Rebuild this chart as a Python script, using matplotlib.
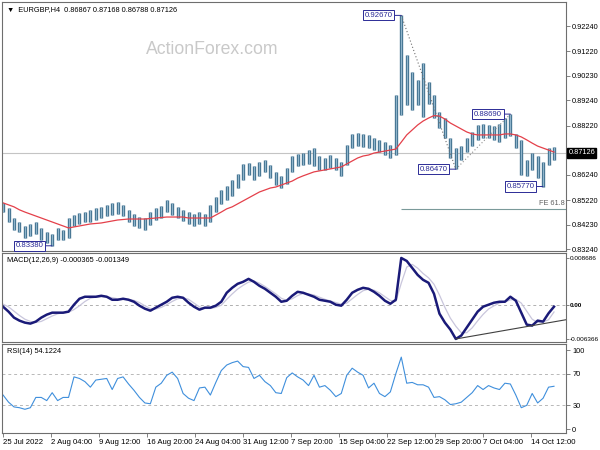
import matplotlib
matplotlib.use("Agg")
import matplotlib.pyplot as plt
import matplotlib.transforms as mtransforms

plt.rcParams["font.family"] = ["Liberation Sans", "DejaVu Sans"]

# ---------------------------------------------------------------------------
# Data (EURGBP H4, one drawn bar per 5 H4 bars)
# ---------------------------------------------------------------------------
bar_idx = list(range(0, 510, 5))

highs = [
    0.8511, 0.8491, 0.8450, 0.8434, 0.8418, 0.8426, 0.8434, 0.8410, 0.8394, 0.8386,
    0.8410, 0.8402, 0.8450, 0.8462, 0.8470, 0.8474, 0.8483, 0.8491, 0.8495, 0.8503,
    0.8511, 0.8515, 0.8503, 0.8483, 0.8466, 0.8454, 0.8450, 0.8474, 0.8491, 0.8499,
    0.8523, 0.8511, 0.8495, 0.8483, 0.8474, 0.8466, 0.8474, 0.8466, 0.8503, 0.8535,
    0.8563, 0.8579, 0.8603, 0.8628, 0.8668, 0.8672, 0.8660, 0.8676, 0.8684, 0.8664,
    0.8636, 0.8620, 0.8652, 0.8700, 0.8708, 0.8712, 0.8724, 0.8732, 0.8700, 0.8692,
    0.8704, 0.8692, 0.8676, 0.8744, 0.8789, 0.8793, 0.8789, 0.8785, 0.8773, 0.8765,
    0.8756, 0.8744, 0.8946, 0.9267, 0.9107, 0.9039, 0.9006, 0.9075, 0.8998, 0.8946,
    0.8877, 0.8853, 0.8773, 0.8732, 0.8740, 0.8773, 0.8797, 0.8825, 0.8829, 0.8825,
    0.8821, 0.8829, 0.8853, 0.8869, 0.8789, 0.8765, 0.8684, 0.8712, 0.8700, 0.8676,
    0.8732, 0.8736,
]
lows = [
    0.8474, 0.8434, 0.8402, 0.8394, 0.8370, 0.8378, 0.8386, 0.8362, 0.8350, 0.8338,
    0.8362, 0.8362, 0.8370, 0.8418, 0.8426, 0.8434, 0.8434, 0.8442, 0.8450, 0.8458,
    0.8462, 0.8466, 0.8458, 0.8434, 0.8418, 0.8410, 0.8402, 0.8422, 0.8442, 0.8450,
    0.8474, 0.8462, 0.8450, 0.8438, 0.8426, 0.8418, 0.8426, 0.8418, 0.8434, 0.8474,
    0.8507, 0.8523, 0.8539, 0.8571, 0.8603, 0.8624, 0.8603, 0.8620, 0.8636, 0.8611,
    0.8583, 0.8571, 0.8587, 0.8636, 0.8660, 0.8664, 0.8668, 0.8660, 0.8644, 0.8644,
    0.8652, 0.8644, 0.8620, 0.8664, 0.8732, 0.8740, 0.8736, 0.8732, 0.8724, 0.8716,
    0.8704, 0.8692, 0.8704, 0.8865, 0.8906, 0.8886, 0.8906, 0.8857, 0.8910, 0.8853,
    0.8813, 0.8773, 0.8692, 0.8647, 0.8684, 0.8716, 0.8740, 0.8765, 0.8773, 0.8773,
    0.8765, 0.8756, 0.8773, 0.8781, 0.8732, 0.8624, 0.8620, 0.8644, 0.8611, 0.8577,
    0.8664, 0.8684,
]
ma_line = [
    0.8511, 0.8503, 0.8495, 0.8483, 0.8474, 0.8466, 0.8458, 0.8450, 0.8442, 0.8434,
    0.8426, 0.8418, 0.8410, 0.8414, 0.8418, 0.8422, 0.8426, 0.8428, 0.8430, 0.8434,
    0.8438, 0.8442, 0.8444, 0.8446, 0.8446, 0.8446, 0.8446, 0.8448, 0.8450, 0.8452,
    0.8454, 0.8454, 0.8454, 0.8454, 0.8450, 0.8450, 0.8450, 0.8450, 0.8450, 0.8462,
    0.8474, 0.8487, 0.8495, 0.8507, 0.8519, 0.8531, 0.8543, 0.8555, 0.8563, 0.8571,
    0.8575, 0.8583, 0.8591, 0.8599, 0.8611, 0.8620, 0.8628, 0.8636, 0.8640, 0.8644,
    0.8648, 0.8652, 0.8656, 0.8668, 0.8680, 0.8692, 0.8700, 0.8704, 0.8712, 0.8716,
    0.8720, 0.8724, 0.8728, 0.8756, 0.8785, 0.8805, 0.8825, 0.8841, 0.8853, 0.8863,
    0.8861, 0.8849, 0.8833, 0.8821, 0.8809, 0.8797, 0.8789, 0.8785, 0.8785, 0.8785,
    0.8785, 0.8785, 0.8789, 0.8789, 0.8785, 0.8777, 0.8765, 0.8752, 0.8740, 0.8732,
    0.8724, 0.8716,
]

macd_main = [
    -0.00037, -0.00129, -0.00240, -0.00296, -0.00333, -0.00351, -0.00314, -0.00240, -0.00185, -0.00148,
    -0.00148, -0.00148, -0.00129, 0.00000, 0.00111, 0.00148, 0.00148, 0.00148, 0.00166, 0.00148,
    0.00092, 0.00092, 0.00111, 0.00092, 0.00055, -0.00018, -0.00074, -0.00111, -0.00055, 0.00000,
    0.00055, 0.00129, 0.00148, 0.00129, 0.00037, -0.00037, -0.00092, -0.00055, -0.00055, -0.00018,
    0.00055, 0.00222, 0.00314, 0.00388, 0.00425, 0.00480, 0.00425, 0.00351, 0.00296, 0.00222,
    0.00148, 0.00055, 0.00074, 0.00166, 0.00240, 0.00222, 0.00185, 0.00148, 0.00092, 0.00074,
    0.00055, 0.00000, -0.00018, 0.00092, 0.00222, 0.00277, 0.00314, 0.00296, 0.00240, 0.00166,
    0.00074, 0.00018, 0.00092, 0.008686, 0.00813, 0.00684, 0.00554, 0.00462, 0.00407, 0.00203,
    -0.00166, -0.00333, -0.00462, -0.006366, -0.00573, -0.00425, -0.00277, -0.00129, -0.00037, 0.00000,
    0.00037, 0.00055, 0.00055, 0.00148, 0.00074, -0.00148, -0.00370, -0.00388, -0.00296, -0.00314,
    -0.00160, -0.000365,
]
macd_signal = [
    0.0001, -0.0004, -0.0012, -0.0020, -0.0027, -0.0031, -0.0033, -0.0031, -0.0026, -0.0021,
    -0.0017, -0.0015, -0.0014, -0.0009, -0.0002, 0.0006, 0.0012, 0.0014, 0.0015, 0.0015,
    0.0013, 0.0011, 0.0010, 0.0010, 0.0008, 0.0004, -0.0002, -0.0007, -0.0008, -0.0005,
    0.0000, 0.0006, 0.0011, 0.0013, 0.0010, 0.0003, -0.0004, -0.0007, -0.0007, -0.0005,
    -0.0001, 0.0010, 0.0020, 0.0029, 0.0036, 0.0042, 0.0044, 0.0040, 0.0034, 0.0027,
    0.0020, 0.0012, 0.0008, 0.0011, 0.0017, 0.0021, 0.0020, 0.0018, 0.0014, 0.0010,
    0.0007, 0.0004, 0.0001, 0.0003, 0.0011, 0.0019, 0.0026, 0.0029, 0.0027, 0.0022,
    0.0015, 0.0008, 0.0006, 0.0040, 0.0070, 0.0075, 0.0068, 0.0058, 0.0050, 0.0038,
    0.0018, -0.0005, -0.0025, -0.0040, -0.0052, -0.0052, -0.0043, -0.0030, -0.0018, -0.0008,
    -0.0002, 0.0003, 0.0005, 0.0009, 0.0010, 0.0003, -0.0012, -0.0027, -0.0033, -0.0032,
    -0.0028, -0.001349,
]

rsi = [
    43, 34, 28, 27, 25, 27, 40, 40, 36, 46,
    36, 40, 40, 66, 64, 60, 53, 62, 63, 64,
    50, 64, 66, 57, 49, 40, 33, 32, 53, 58,
    68, 72, 64, 45, 39, 36, 52, 53, 43, 59,
    74, 81, 84, 86, 79, 78, 64, 68, 60, 55,
    46, 45, 65, 71, 66, 62, 55, 68, 53, 55,
    49, 41, 45, 68, 77, 72, 68, 52, 58, 45,
    41, 47, 70, 91, 58, 59, 56, 56, 53, 40,
    41, 37, 31, 32, 34, 40, 46, 55, 50, 55,
    52, 50, 58, 57, 43, 27, 30, 45, 33, 39,
    53, 54.1224,
]

date_ticks = [0, 44, 88, 132, 176, 220, 264, 308, 352, 396, 440, 484]
date_labels = ["25 Jul 2022", "2 Aug 04:00", "9 Aug 12:00", "16 Aug 20:00",
               "24 Aug 04:00", "31 Aug 12:00", "7 Sep 20:00", "15 Sep 04:00",
               "22 Sep 12:00", "29 Sep 20:00", "7 Oct 04:00", "14 Oct 12:00"]

price_ticks = [0.92240, 0.91220, 0.90230, 0.89240, 0.88220,
               0.86240, 0.85220, 0.84230, 0.83240]
last_price = 0.87126
fe_level = 0.8486

# swing labels: (bar, price, text)
swings = [(365, 0.92670, "0.92670"), (465, 0.88690, "0.88690"),
          (415, 0.86470, "0.86470"), (495, 0.85770, "0.85770"),
          (45, 0.83380, "0.83380")]

# ---------------------------------------------------------------------------
W, H = 600, 450
fig = plt.figure(figsize=(6, 4.5), dpi=100)


def px_axes(x0, y0, x1, y1):
    return fig.add_axes([x0 / W, 1 - y1 / H, (x1 - x0) / W, (y1 - y0) / H])


ax = px_axes(2, 2, 566, 251)
ax_m = px_axes(2, 253, 566, 342)
ax_r = px_axes(2, 344, 566, 433)

FS = 5.3
FRAME_C = "#6e6e6e"
BOX_C = "#2b2b96"

for a in (ax, ax_m, ax_r):
    a.set_xlim(-1, 516)
    a.yaxis.tick_right()
    a.tick_params(axis="y", length=3, width=0.6, pad=1.5, labelsize=FS,
                  colors="black")
    a.tick_params(axis="y", color=FRAME_C)
    for s in a.spines.values():
        s.set_color(FRAME_C)
        s.set_linewidth(0.8)
    a.set_xticks([])

# --- price panel -----------------------------------------------------------
ax.set_ylim(0.8317, 0.9321)
ax.vlines(bar_idx, lows, highs, color="#40708e", linewidth=2.4)
ax.vlines(bar_idx, lows, highs, color="#8fb4cb", linewidth=0.9)
ax.plot(bar_idx, ma_line, color="#e4404a", linewidth=0.9)
ax.axhline(last_price, color="#c4c4c4", linewidth=0.8, zorder=0)
ax.hlines(fe_level, 365, 516, color="#7a9a9a", linewidth=0.8)
ax.text(515, fe_level + 0.0009, "FE 61.8", ha="right", va="bottom",
        fontsize=FS, color="#606060")

# swing projection lines
ax.plot([365, 415], [0.92670, 0.86470], color="#707070", linestyle=(0, (1, 2)),
        linewidth=0.8)
ax.plot([415, 465], [0.86470, 0.88690], color="#909090", linestyle=(0, (1, 2)),
        linewidth=0.8)

for bx, py, txt in swings:
    ax.annotate(txt, xy=(bx, py), xytext=(-6, 0), textcoords="offset points",
                ha="right", va="center", fontsize=FS + 0.3, color=BOX_C,
                bbox=dict(boxstyle="square,pad=0.2", fc="white", ec=BOX_C,
                          lw=0.7),
                arrowprops=dict(arrowstyle="-", color=BOX_C, lw=0.7,
                                shrinkA=0, shrinkB=0))

ax.set_yticks(price_ticks)
ax.set_yticklabels([f"{v:.5f}" for v in price_ticks])

trans = mtransforms.blended_transform_factory(ax.transAxes, ax.transData)
ax.text(1.004, last_price, f"{last_price:.5f}", transform=trans, ha="left",
        va="center", fontsize=FS, color="white",
        bbox=dict(boxstyle="square,pad=0.2", fc="black", ec="black"))

ax.text(0.008, 0.985, "\u25bc  EURGBP,H4  0.86867 0.87168 0.86788 0.87126",
        transform=ax.transAxes, ha="left", va="top", fontsize=5.3)
fig.text(212 / W, 1 - 50 / H, "ActionForex.com", ha="center", va="center",
         fontsize=12.7, color="#c9c9c9")

# --- MACD panel ------------------------------------------------------------
ax_m.set_ylim(-0.00693, 0.00961)
ax_m.axhline(0, color="#b0b0b0", linewidth=0.7, linestyle=(0, (3, 3)))
ax_m.plot(bar_idx, macd_signal, color="#c9c6dc", linewidth=0.9)
ax_m.plot(bar_idx, macd_main, color="#1a1a78", linewidth=1.8)
ax_m.plot([415, 516], [-0.006366, -0.00279], color="#404040", linewidth=0.8)
ax_m.set_yticks([0.008686, 0.0, -0.006366])
ax_m.set_yticklabels(["0.008686", "0.00", "-0.006366"])
ax_m.tick_params(axis="y", labelsize=4.6, pad=0.8, length=2)
ax_m.get_yticklabels()[1].set_fontweight("bold")
ax_m.text(0.008, 0.96, "MACD(12,26,9) -0.000365 -0.001349",
          transform=ax_m.transAxes, ha="left", va="top", fontsize=5.3)

# --- RSI panel -------------------------------------------------------------
ax_r.set_ylim(-5, 107.6)
for lvl in (70, 30):
    ax_r.axhline(lvl, color="#b8b8b8", linewidth=0.7, linestyle=(0, (3, 3)))
ax_r.plot(bar_idx, rsi, color="#3f8fdc", linewidth=0.8)
ax_r.set_yticks([100, 70, 30, 0])
ax_r.set_yticklabels(["100", "70", "30", "0"])
ax_r.text(0.008, 0.96, "RSI(14) 54.1224", transform=ax_r.transAxes,
          ha="left", va="top", fontsize=5.3)

ax_r.set_xticks(date_ticks)
ax_r.set_xticklabels(date_labels, ha="left")
ax_r.tick_params(axis="x", length=3, width=0.6, pad=1.5, labelsize=5.6,
                 color=FRAME_C)

fig.savefig("out.png", dpi=100)
